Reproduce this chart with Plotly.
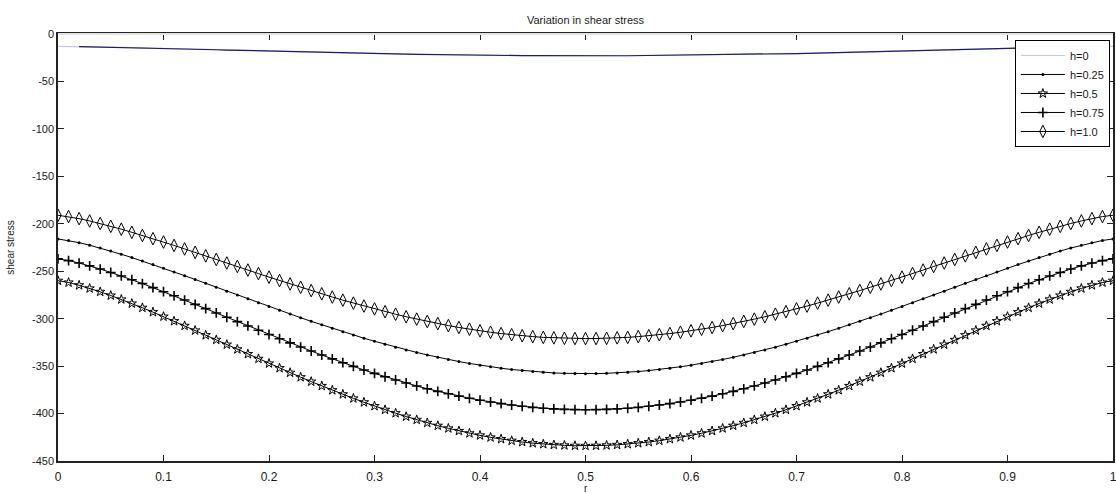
import plotly.graph_objects as go

r = [i / 100 for i in range(101)]

h_0 = [-13.0,-13.1,-13.3,-13.5,-13.7,-13.9,-14.1,-14.4,-14.6,-14.9,-15.2,-15.4,-15.7,-16.0,-16.3,-16.6,-16.9,-17.2,-17.4,-17.7,-18.0,-18.3,-18.6,-18.8,-19.1,-19.4,-19.6,-19.9,-20.1,-20.4,-20.6,-20.8,-21.0,-21.2,-21.4,-21.6,-21.8,-21.9,-22.1,-22.2,-22.4,-22.5,-22.6,-22.7,-22.8,-22.8,-22.9,-22.9,-23.0,-23.0,-23.0,
       -23.0,-23.0,-22.9,-22.9,-22.8,-22.8,-22.7,-22.6,-22.5,-22.4,-22.2,-22.1,-21.9,-21.8,-21.6,-21.4,-21.2,-21.0,-20.8,-20.6,-20.4,-20.1,-19.9,-19.6,-19.4,-19.1,-18.8,-18.6,-18.3,-18.0,-17.7,-17.4,-17.2,-16.9,-16.6,-16.3,-16.0,-15.7,-15.4,-15.2,-14.9,-14.6,-14.4,-14.1,-13.9,-13.7,-13.5,-13.3,-13.1,-13.0]

h_025 = [-216.0,-217.6,-219.9,-222.6,-225.5,-228.7,-232.1,-235.6,-239.3,-243.0,-246.9,-250.8,-254.7,-258.7,-262.8,-266.9,-271.0,-275.0,-279.1,-283.2,-287.2,-291.1,-295.1,-299.0,-302.8,-306.5,-310.1,-313.7,-317.2,-320.6,-323.8,-326.9,-330.0,-332.9,-335.6,-338.2,-340.7,-343.0,-345.2,-347.2,-349.0,-350.7,-352.2,-353.6,-354.7,-355.7,-356.6,-357.2,-357.6,-357.9,-358.0,
         -357.9,-357.6,-357.2,-356.6,-355.7,-354.7,-353.6,-352.2,-350.7,-349.0,-347.2,-345.2,-343.0,-340.7,-338.2,-335.6,-332.9,-330.0,-326.9,-323.8,-320.6,-317.2,-313.7,-310.1,-306.5,-302.8,-299.0,-295.1,-291.1,-287.2,-283.2,-279.1,-275.0,-271.0,-266.9,-262.8,-258.7,-254.7,-250.8,-246.9,-243.0,-239.3,-235.6,-232.1,-228.7,-225.5,-222.6,-219.9,-217.6,-216.0]

h_05 = [-260.0,-261.9,-264.8,-268.1,-271.7,-275.6,-279.7,-284.0,-288.5,-293.1,-297.8,-302.6,-307.5,-312.4,-317.4,-322.3,-327.3,-332.3,-337.3,-342.3,-347.2,-352.1,-356.9,-361.7,-366.3,-370.9,-375.4,-379.7,-384.0,-388.1,-392.1,-396.0,-399.6,-403.2,-406.6,-409.8,-412.8,-415.6,-418.3,-420.8,-423.0,-425.1,-426.9,-428.6,-430.0,-431.2,-432.2,-433.0,-433.5,-433.9,-434.0,
        -433.9,-433.5,-433.0,-432.2,-431.2,-430.0,-428.6,-426.9,-425.1,-423.0,-420.8,-418.3,-415.6,-412.8,-409.8,-406.6,-403.2,-399.6,-396.0,-392.1,-388.1,-384.0,-379.7,-375.4,-370.9,-366.3,-361.7,-356.9,-352.1,-347.2,-342.3,-337.3,-332.3,-327.3,-322.3,-317.4,-312.4,-307.5,-302.6,-297.8,-293.1,-288.5,-284.0,-279.7,-275.6,-271.7,-268.1,-264.8,-261.9,-260.0]

h_075 = [-237.0,-238.8,-241.4,-244.4,-247.7,-251.3,-255.0,-259.0,-263.0,-267.3,-271.6,-275.9,-280.4,-284.9,-289.4,-294.0,-298.5,-303.1,-307.7,-312.2,-316.7,-321.1,-325.5,-329.9,-334.1,-338.3,-342.4,-346.4,-350.3,-354.1,-357.7,-361.2,-364.6,-367.8,-370.9,-373.9,-376.6,-379.2,-381.6,-383.9,-385.9,-387.8,-389.5,-391.0,-392.3,-393.5,-394.4,-395.1,-395.6,-395.9,-396.0,
         -395.9,-395.6,-395.1,-394.4,-393.5,-392.3,-391.0,-389.5,-387.8,-385.9,-383.9,-381.6,-379.2,-376.6,-373.9,-370.9,-367.8,-364.6,-361.2,-357.7,-354.1,-350.3,-346.4,-342.4,-338.3,-334.1,-329.9,-325.5,-321.1,-316.7,-312.2,-307.7,-303.1,-298.5,-294.0,-289.4,-284.9,-280.4,-275.9,-271.6,-267.3,-263.0,-259.0,-255.0,-251.3,-247.7,-244.4,-241.4,-238.8,-237.0]

h_10 = [-191.0,-192.4,-194.6,-197.0,-199.7,-202.7,-205.7,-209.0,-212.3,-215.7,-219.2,-222.8,-226.5,-230.1,-233.8,-237.6,-241.3,-245.0,-248.8,-252.5,-256.2,-259.8,-263.4,-266.9,-270.4,-273.8,-277.2,-280.5,-283.6,-286.7,-289.7,-292.6,-295.3,-298.0,-300.5,-302.9,-305.2,-307.3,-309.3,-311.1,-312.8,-314.3,-315.7,-316.9,-318.0,-318.9,-319.7,-320.2,-320.7,-320.9,-321.0,
        -320.9,-320.7,-320.2,-319.7,-318.9,-318.0,-316.9,-315.7,-314.3,-312.8,-311.1,-309.3,-307.3,-305.2,-302.9,-300.5,-298.0,-295.3,-292.6,-289.7,-286.7,-283.6,-280.5,-277.2,-273.8,-270.4,-266.9,-263.4,-259.8,-256.2,-252.5,-248.8,-245.0,-241.3,-237.6,-233.8,-230.1,-226.5,-222.8,-219.2,-215.7,-212.3,-209.0,-205.7,-202.7,-199.7,-197.0,-194.6,-192.4,-191.0]

names = ["h=0", "h=0.25", "h=0.5", "h=0.75", "h=1.0"]
x_ticks = [0, 0.1, 0.2, 0.3, 0.4, 0.5, 0.6, 0.7, 0.8, 0.9, 1]
y_ticks = [0, -50, -100, -150, -200, -250, -300, -350, -400, -450]
x_title = "r"

FONT = "Liberation Sans, Arial, sans-serif"
TXT = "#1a1a1a"

fig = go.Figure()

fig.add_trace(go.Scatter(x=r, y=h_0, mode="lines", name=names[0],
                         line=dict(color="#c4c4f2", width=1.2)))
fig.add_trace(go.Scatter(x=r[2:99], y=h_0[2:99], mode="lines", showlegend=False,
                         line=dict(color="#1c1c70", width=1.2), hoverinfo="skip"))

fig.add_trace(go.Scatter(x=r, y=h_025, mode="lines+markers", name=names[1],
                         line=dict(color="black", width=1),
                         marker=dict(symbol="circle", size=3, color="black")))
fig.add_trace(go.Scatter(x=r, y=h_05, mode="lines+markers", name=names[2],
                         line=dict(color="black", width=1),
                         marker=dict(symbol="star-open", size=7, color="black",
                                     line=dict(width=1, color="black"))))
fig.add_trace(go.Scatter(x=r, y=h_075, mode="lines+markers", name=names[3],
                         line=dict(color="black", width=1),
                         marker=dict(symbol="cross-thin-open", size=7, color="black",
                                     line=dict(width=1.6, color="black"))))
fig.add_trace(go.Scatter(x=r, y=h_10, mode="lines+markers", name=names[4],
                         line=dict(color="black", width=1),
                         marker=dict(symbol="diamond-tall-open", size=9, color="black",
                                     line=dict(width=1, color="black"))))

fig.update_layout(
    width=1116, height=493,
    margin=dict(l=58, r=3, t=34, b=32, autoexpand=False),
    paper_bgcolor="white", plot_bgcolor="white",
    font=dict(family=FONT, size=11, color=TXT),
    title=dict(text="Variation in shear stress", x=(58 + 1113) / 2 / 1116, xanchor="center",
               y=1 - 20 / 493, yanchor="middle", font=dict(size=11, color=TXT)),
    showlegend=True,
    legend=dict(x=0.907, y=0.986, xanchor="left", yanchor="top",
                bgcolor="white", bordercolor="black", borderwidth=1,
                font=dict(size=11, color=TXT), tracegroupgap=0,
                itemwidth=44),
    xaxis=dict(range=[0, 1], tickvals=x_ticks, ticktext=[str(v) for v in x_ticks],
               showgrid=False, zeroline=False, showline=True, linecolor="#222", linewidth=1.5,
               mirror="allticks", ticks="inside", ticklen=6, tickcolor="#222",
               tickfont=dict(size=12, color=TXT), ticklabelstandoff=4, automargin=False,
               ticklabeloverflow="allow"),
    yaxis=dict(range=[-450, 0], tickvals=y_ticks, ticktext=[str(v) for v in y_ticks],
               showgrid=False, zeroline=False, showline=True, linecolor="#222", linewidth=1.5,
               mirror="allticks", ticks="inside", ticklen=6, tickcolor="#222",
               tickfont=dict(size=11, color=TXT), automargin=False,
               title=dict(text="shear stress", font=dict(size=10), standoff=16)),
    shapes=[dict(type="line", xref="paper", yref="paper", x0=0, x1=1, y0=1, y1=1,
                 line=dict(color="#e4e4e4", width=2), layer="above")],
    annotations=[dict(text=x_title, xref="paper", yref="paper", x=0.5, y=-(481 - 461) / 427,
                      xanchor="center", yanchor="top", showarrow=False,
                      font=dict(size=10, color=TXT))],
)

fig.write_html("out.html")
